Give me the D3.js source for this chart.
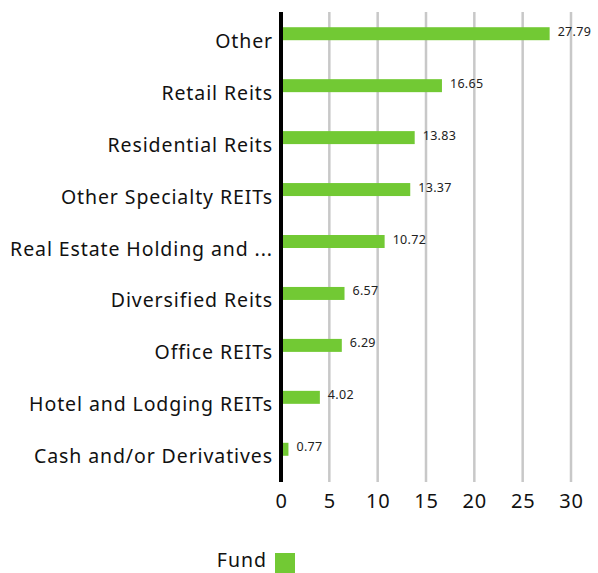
<!DOCTYPE html>
<html><head><meta charset="utf-8">
<script src="https://cdn.jsdelivr.net/npm/d3@7"></script>
<style>body{margin:0;background:#fff;font-family:"Noto Sans",sans-serif;}</style>
</head><body>
<svg id="c" width="598" height="573"></svg>
<script>
const categories = ["Other","Retail Reits","Residential Reits","Other Specialty REITs","Real Estate Holding and ...","Diversified Reits","Office REITs","Hotel and Lodging REITs","Cash and/or Derivatives"];
const values = [27.79,16.65,13.83,13.37,10.72,6.57,6.29,4.02,0.77];
const ticks = [0,5,10,15,20,25,30];
const seriesName = "Fund";
const green = "#72c934";

const svg = d3.select("#c");
const x = d3.scaleLinear().domain([0,30]).range([281,571]);
const y = d3.scaleBand().domain(categories).range([8,475]).paddingInner(0.75).paddingOuter(0.37);

// gridlines
svg.append("g").selectAll("line").data(ticks.slice(1)).join("line")
  .attr("x1",d=>x(d)).attr("x2",d=>x(d)).attr("y1",12).attr("y2",482)
  .attr("stroke","#c8c8c8").attr("stroke-width",2.5);

// bars
svg.append("g").selectAll("rect").data(values).join("rect")
  .attr("x",x(0)).attr("y",(d,i)=>y(categories[i]))
  .attr("width",d=>x(d)-x(0)).attr("height",y.bandwidth())
  .attr("fill",green);

// value labels
svg.append("g").selectAll("text").data(values).join("text")
  .attr("x",d=>x(d)+8).attr("y",(d,i)=>y(categories[i])+y.bandwidth()/2+2)
  .attr("font-size",12.5).attr("letter-spacing",0.3).attr("fill","#222").text(d=>d.toFixed(2));

// category labels
svg.append("g").selectAll("text").data(categories).join("text")
  .attr("x",273).attr("y",d=>y(d)+y.bandwidth()/2+14)
  .attr("text-anchor","end").attr("font-size",19.5).attr("letter-spacing",0.9).attr("fill","#111").text(d=>d);

// axis line
svg.append("line").attr("x1",x(0)).attr("x2",x(0)).attr("y1",12).attr("y2",482)
  .attr("stroke","#000").attr("stroke-width",4);

// x tick labels
const xa = d3.axisBottom(x).tickValues(ticks).tickSize(0).tickPadding(0);
const g = svg.append("g").attr("transform","translate(0,490)").call(xa);
g.select(".domain").remove();
g.selectAll("text").attr("font-size",20).attr("font-family","Noto Sans").attr("letter-spacing",0.8).attr("fill","#111").attr("dy","0.71em").attr("y",4);

// legend
svg.append("text").attr("x",267).attr("y",567).attr("text-anchor","end").attr("font-size",19.5).attr("letter-spacing",1).attr("fill","#111").text(seriesName);
svg.append("rect").attr("x",275).attr("y",553).attr("width",20).attr("height",20).attr("fill",green);
</script>
</body></html>
